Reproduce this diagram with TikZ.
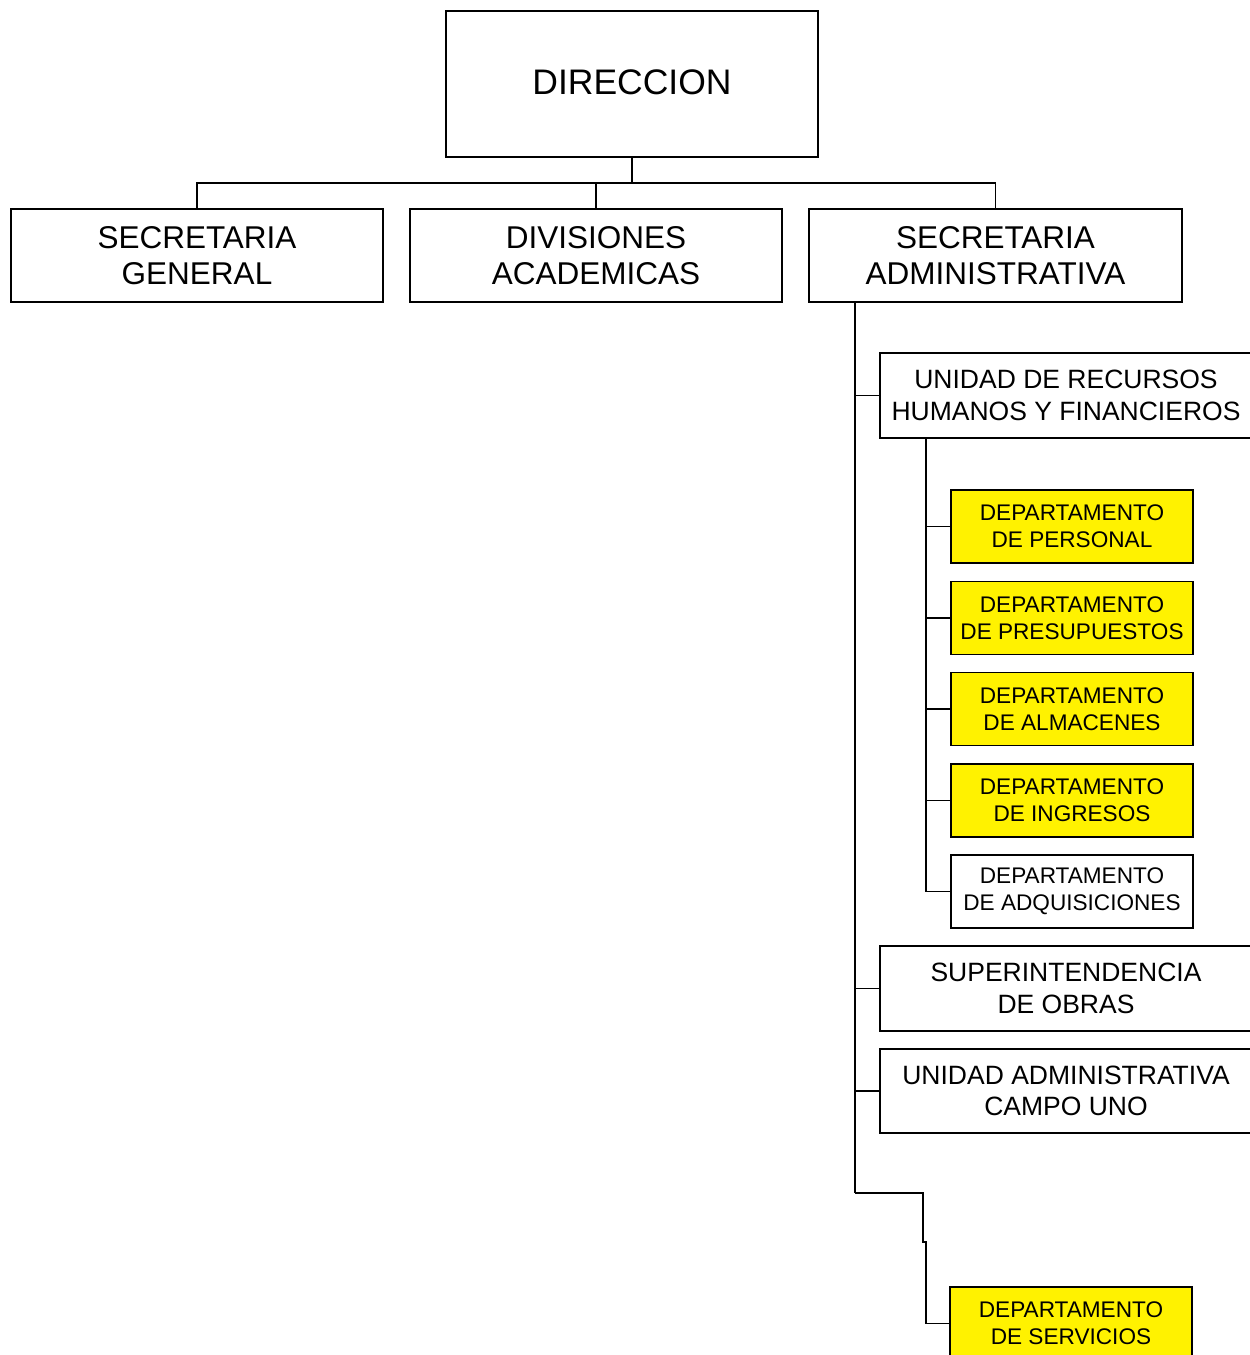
\documentclass[tikz,border=0pt]{standalone}
\usepackage{fontspec}
\setmainfont{Liberation Sans}
\begin{document}
\begin{tikzpicture}[x=1pt,y=-1pt,
  box/.style={draw=black, line width=1.6pt, fill=white, align=center, inner sep=0pt, text=black},
  topbox/.style={box, minimum width=372pt, minimum height=146pt, font=\fontsize{35.5}{42}\selectfont},
  lvlone/.style={box, minimum width=372pt, minimum height=93pt, font=\fontsize{31.5}{36}\selectfont},
  unitbox/.style={box, minimum width=372pt, minimum height=85pt, font=\fontsize{26.5}{31.5}\selectfont},
  deptbox/.style={box, minimum width=242pt, minimum height=73pt, font=\fontsize{22.6}{27}\selectfont},
  hl/.style={deptbox, fill=yellow},
  link/.style={draw=black, line width=1.6pt}]
\useasboundingbox (0,0) rectangle (1250,1355);

% top level
\node[topbox, text depth=4pt] (dir) at (632,84) {DIRECCION};

% second level
\node[lvlone] (sg) at (197,255.5) {SECRETARIA\\GENERAL};
\node[lvlone] (da) at (596,255.5) {DIVISIONES\\ACADEMICAS};
\node[lvlone, minimum width=373pt] (sa) at (995.5,255.5) {SECRETARIA\\ADMINISTRATIVA};

% units under the administrative secretariat
\node[unitbox] (urhf) at (1066,395.5) {UNIDAD DE RECURSOS\\HUMANOS Y FINANCIEROS};
\node[unitbox] (so) at (1066,988.5) {SUPERINTENDENCIA\\DE OBRAS};
\node[unitbox, minimum height=84pt] (uac) at (1066,1091) {UNIDAD ADMINISTRATIVA\\CAMPO UNO};

% departments
\node[hl] (dper) at (1072,526.5) {DEPARTAMENTO\\DE PERSONAL};
\node[hl] (dpre) at (1072,618) {DEPARTAMENTO\\DE PRESUPUESTOS};
\node[hl] (dalm) at (1072,709) {DEPARTAMENTO\\DE ALMACENES};
\node[hl] (ding) at (1072,800.5) {DEPARTAMENTO\\DE INGRESOS};
\node[deptbox] (dadq) at (1072,891.5) {DEPARTAMENTO\\DE ADQUISICIONES};
\node[hl] (dser) at (1071,1323.5) {DEPARTAMENTO\\DE SERVICIOS};

% connectors: direction to second level
\coordinate (bus) at (632,183);
\draw[link] (dir.south) -- (bus);
\draw[link] (sg.north) |- (bus) -| (sa.north);
\draw[link] (da.north) -- (da.north |- bus);

% administrative spine
\coordinate (spine) at (855,0);
\draw[link] (spine |- sa.south) -- (855,1193);
\draw[link] (spine |- urhf.west) -- (urhf.west);
\draw[link] (spine |- so.west) -- (so.west);
\draw[link] (spine |- uac.west) -- (uac.west);

% departments of the human and financial resources unit
\coordinate (sub) at (926,0);
\draw[link] (sub |- urhf.south) |- (dadq.west);
\foreach \d in {dper,dpre,dalm,ding}
  \draw[link] (sub |- \d.west) -- (\d.west);

% services department
\coordinate (elbow) at (923,1193);
\draw[link] (855,1193) -- (elbow) -- (923,1242) -- (926,1242) |- (dser.west);
\end{tikzpicture}
\end{document}
